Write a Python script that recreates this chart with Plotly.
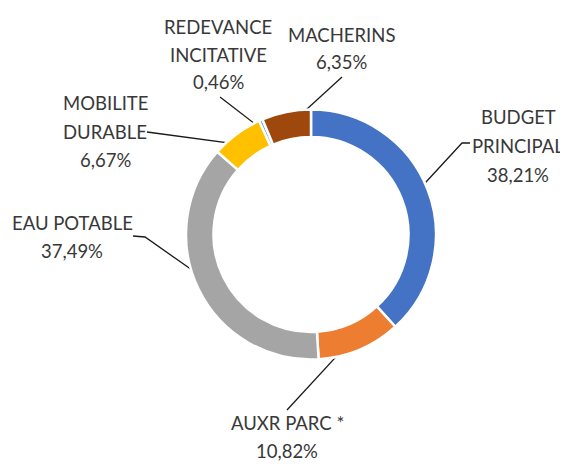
import math
import plotly.graph_objects as go

# ---- data ----
categories = ["BUDGET PRINCIPAL", "AUXR PARC *", "EAU POTABLE",
              "MOBILITE DURABLE", "REDEVANCE INCITATIVE", "MACHERINS"]
label_lines = [["BUDGET", "PRINCIPAL"], ["AUXR PARC *"], ["EAU POTABLE"],
               ["MOBILITE", "DURABLE"], ["REDEVANCE", "INCITATIVE"], ["MACHERINS"]]
values = [38.21, 10.82, 37.49, 6.67, 0.46, 6.35]
colors = ["#4472C4", "#ED7D31", "#A5A5A5", "#FFC000", "#5B9BD5", "#9E480E"]

# ---- layout geometry (page pixels; the page body has an 8px margin) ----
OFF = 8
W, H = 568 - OFF, 464 - OFF
cx, cy, R = 311 - OFF, 234.5 - OFF, 125
hole = 0.78
label_pos = [(518, 117), (287, 423), (72, 222.5), (105, 103), (218, 27), (341, 35)]
pitch = [29, 28, 28, 28.5, 27.5, 27]
leader_start = [[(470, 143), (462, 143)], [(287, 410)], [(133, 236), (145, 237)],
                [(147, 132)], [(220, 97)], [(342, 77)]]

FONT = "Lato, 'Open Sans', sans-serif"
TXT = "#383838"

fig = go.Figure()

fig.add_trace(go.Pie(
    labels=categories, values=values, sort=False, direction="clockwise",
    rotation=0, hole=hole, textinfo="none", hoverinfo="label+percent",
    marker=dict(colors=colors, line=dict(color="white", width=2.5)),
    domain=dict(x=[(cx - R) / W, (cx + R) / W], y=[1 - (cy + R) / H, 1 - (cy - R) / H]),
    showlegend=False,
))

# leader lines to slice mid-points (computed from data)
total = sum(values)
cum = 0.0
r_mid = R * (1 + hole) / 2
for i, v in enumerate(values):
    mid = (cum + v / 2) / total
    cum += v
    ang = 2 * math.pi * mid
    px = cx + r_mid * math.sin(ang)
    py = cy - r_mid * math.cos(ang)
    pts = [(a - OFF, b - OFF) for a, b in leader_start[i]] + [(px, py)]
    fig.add_trace(go.Scatter(
        x=[p[0] for p in pts], y=[p[1] for p in pts], mode="lines",
        line=dict(color="#1a1a1a", width=1.3), hoverinfo="skip", showlegend=False,
    ))

# labels
annotations = []
for i, v in enumerate(values):
    lines = label_lines[i] + [f"{v:.2f}".replace(".", ",") + "%"]
    x0, y0 = label_pos[i]
    for k, t in enumerate(lines):
        annotations.append(dict(
            x=x0 - OFF, y=y0 - OFF + k * pitch[i], xref="x", yref="y", text=t,
            showarrow=False, xanchor="center", yanchor="middle",
            font=dict(family=FONT, size=18.5, color=TXT),
        ))

fig.update_layout(
    width=W, height=H, margin=dict(l=0, r=0, t=0, b=0),
    paper_bgcolor="white", plot_bgcolor="rgba(0,0,0,0)",
    xaxis=dict(range=[0, W], visible=False, fixedrange=True, domain=[0, 1]),
    yaxis=dict(range=[H, 0], visible=False, fixedrange=True, domain=[0, 1]),
    annotations=annotations,
)

fig.write_html("out.html")
